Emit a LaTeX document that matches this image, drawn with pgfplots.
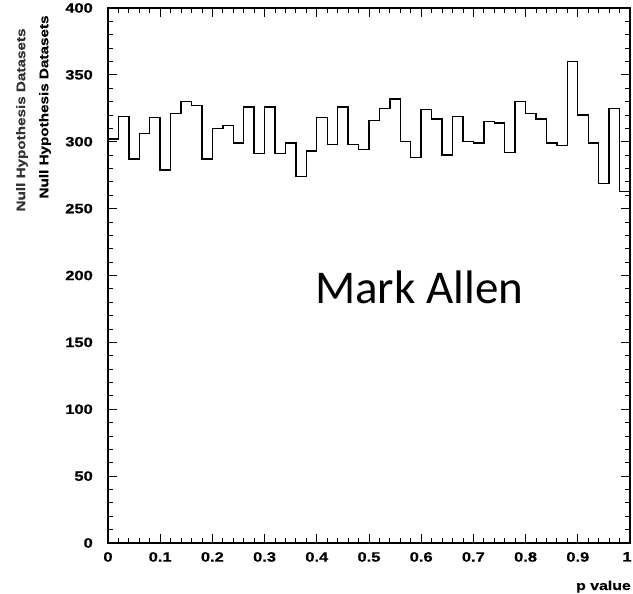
\documentclass[border=0pt]{standalone}
\usepackage{fontspec}
\setmainfont{Liberation Sans}
\newfontfamily\carlito{Carlito}
\newfontfamily\wide[FakeStretch=1.22, FakeBold=0.6]{Liberation Sans Bold}
\usepackage{pgfplots}
\pgfplotsset{compat=1.18}
\begin{document}
\begin{tikzpicture}
\begin{axis}[
  at={(0,0)}, anchor=south west,
  scale only axis, width=522pt, height=535pt,
  xmin=0, xmax=1, ymin=0, ymax=400,
  xtick={0,0.1,...,1.0}, ytick={0,50,...,400},
  xticklabels={0,0.1,0.2,0.3,0.4,0.5,0.6,0.7,0.8,0.9,\hspace*{-6pt}1},
  minor x tick num=4, minor y tick num=4,
  tick align=inside, ticks=both,
  xtick pos=both, ytick pos=both,
  major tick length=9pt, minor tick length=5pt,
  every tick/.style={black, line width=0.9pt},
  axis line style={black, line width=1.2pt},
  /pgf/number format/assume math mode=true,
  tick label style={font=\wide\fontsize{13.5}{16}\selectfont, inner sep=0pt},
  xticklabel style={anchor=north, yshift=-9pt},
  yticklabel style={anchor=east, xshift=-15pt},
  xlabel={p value},
  xlabel style={at={(rel axis cs:1,0)}, anchor=base east, yshift=-47pt, xshift=1pt, font=\wide\fontsize{13}{16}\selectfont, inner sep=0pt},
  clip=false,
]
\addplot[const plot, black, line width=1.4pt] coordinates {
(0.00,302) (0.02,319) (0.04,287) (0.06,306) (0.08,318)
(0.10,279) (0.12,321) (0.14,330) (0.16,327) (0.18,287)
(0.20,310) (0.22,312) (0.24,299) (0.26,326) (0.28,291)
(0.30,326) (0.32,291) (0.34,299) (0.36,274) (0.38,293)
(0.40,318) (0.42,298) (0.44,326) (0.46,298) (0.48,294)
(0.50,316) (0.52,325) (0.54,332) (0.56,300) (0.58,288)
(0.60,324) (0.62,317) (0.64,290) (0.66,319) (0.68,300)
(0.70,299) (0.72,315) (0.74,314) (0.76,292) (0.78,330)
(0.80,321) (0.82,317) (0.84,299) (0.86,297) (0.88,360)
(0.90,320) (0.92,299) (0.94,269) (0.96,325) (0.98,263)
(1.00,263)
};
\node[anchor=base west, inner sep=0pt, font=\carlito\fontsize{47}{56}\selectfont] at (axis cs:0.3966,179.4) {Mark Allen};
\node[rotate=90, anchor=center, inner sep=0pt, font=\wide\fontsize{12.5}{15}\selectfont, text=black!80] at (rel axis cs:-0.1648,0.7907) {Null Hypothesis Datasets};
\node[rotate=90, anchor=center, inner sep=0pt, font=\wide\fontsize{12.5}{15}\selectfont] at (rel axis cs:-0.1207,0.815) {Null Hypothesis Datasets};
\end{axis}
\pgfresetboundingbox
\path[use as bounding box] (-108pt,-51pt) rectangle (525pt,543pt);
\end{tikzpicture}
\end{document}
